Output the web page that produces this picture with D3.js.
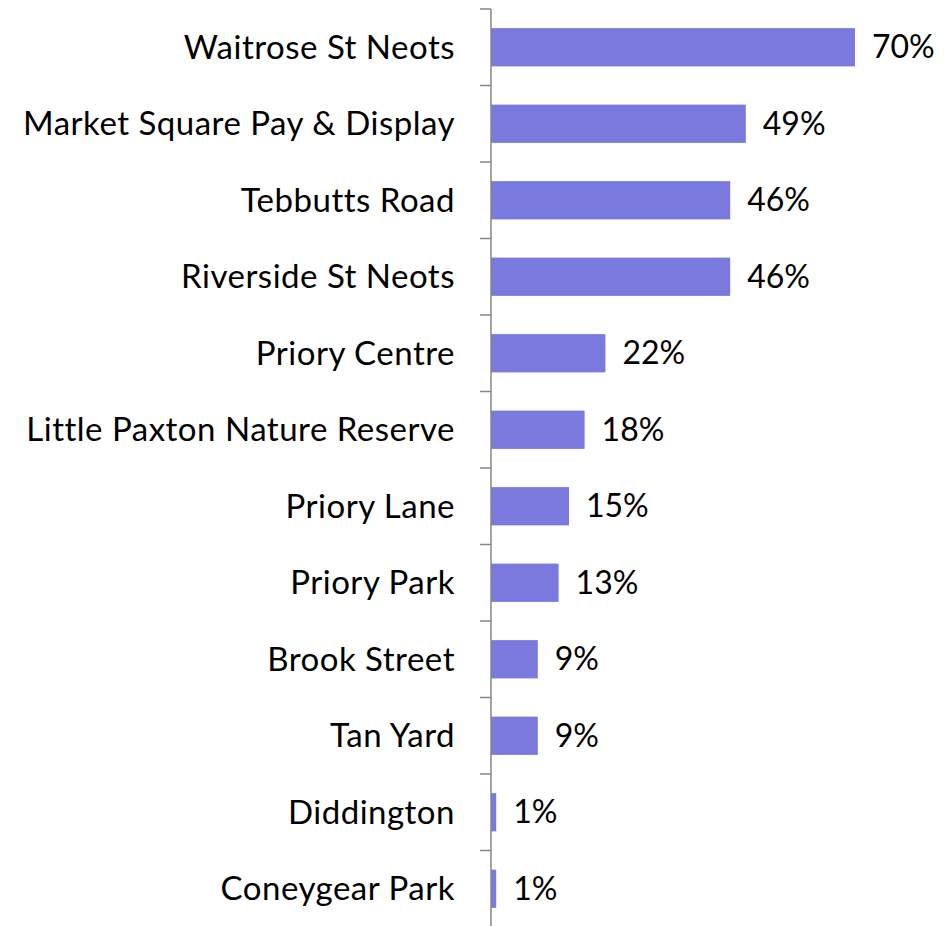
<!DOCTYPE html>
<html>
<head>
<meta charset="utf-8">
<script src="https://cdn.jsdelivr.net/npm/d3@7"></script>
<style>
  body { margin: 0; background: #fff; }
  text { font-family: Lato, "Open Sans", sans-serif; fill: #000; }
</style>
</head>
<body>
<div id="chart"></div>
<script>
const places = ['Waitrose St Neots', 'Market Square Pay & Display', 'Tebbutts Road', 'Riverside St Neots',
    'Priory Centre', 'Little Paxton Nature Reserve', 'Priory Lane', 'Priory Park', 'Brook Street',
    'Tan Yard', 'Diddington', 'Coneygear Park'];
const shares = [70, 49, 46, 46, 22, 18, 15, 13, 9, 9, 1, 1];

const width = 947, height = 926;
const axisX = 491, plotTop = 9, plotBottom = 927;

const svg = d3.select('#chart').append('svg').attr('width', width).attr('height', height);

const x = d3.scaleLinear().domain([0, 70]).range([axisX, axisX + 364]);
const y = d3.scaleBand().domain(places).range([plotTop, plotBottom]).paddingInner(0.5).paddingOuter(0.25);
const band = d3.scaleBand().domain(places).range([plotTop, plotBottom]);

// bars
svg.selectAll('rect.bar').data(places).enter().append('rect')
    .attr('class', 'bar')
    .attr('x', x(0))
    .attr('y', d => y(d))
    .attr('width', (d, i) => x(shares[i]) - x(0))
    .attr('height', y.bandwidth())
    .style('fill', '#7979DE');

// axis line + ticks at band boundaries
const axis = svg.append('g');
axis.append('line').attr('x1', axisX).attr('x2', axisX).attr('y1', plotTop).attr('y2', plotBottom)
    .style('stroke', '#868686').style('stroke-width', 1.5);
const edges = places.map(p => band(p));
axis.selectAll('line.tick').data(edges).enter().append('line').attr('class', 'tick')
    .attr('x1', axisX - 11).attr('x2', axisX).attr('y1', d => d).attr('y2', d => d)
    .style('stroke', '#868686').style('stroke-width', 1.5);

// category labels
svg.selectAll('text.cat').data(places).enter().append('text')
    .attr('class', 'cat')
    .attr('x', 455)
    .attr('y', d => band(d) + band.bandwidth() / 2)
    .attr('dy', '0.35em')
    .attr('text-anchor', 'end')
    .style('font-size', '33px')
    .style('letter-spacing', '0.5px')
    .text(d => d);

// value labels
svg.selectAll('text.val').data(places).enter().append('text')
    .attr('class', 'val')
    .attr('x', (d, i) => x(shares[i]) + 17)
    .attr('y', d => band(d) + band.bandwidth() / 2)
    .attr('dy', '0.35em')
    .style('font-size', '32px')
    .text((d, i) => shares[i] + '%');
</script>
</body>
</html>
